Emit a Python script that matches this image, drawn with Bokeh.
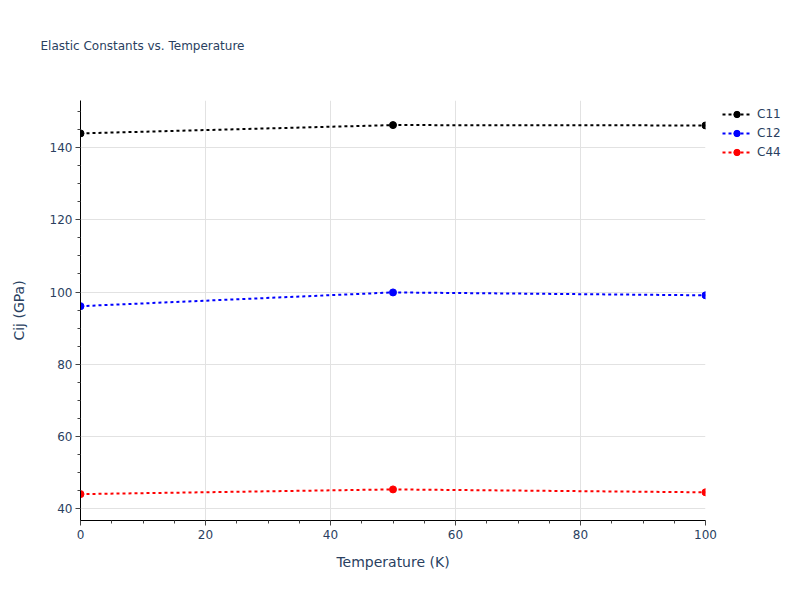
from bokeh.plotting import figure
from bokeh.models import (Range1d, SingleIntervalTicker, Legend, LegendItem, ColumnDataSource, Title)
from bokeh.embed import file_html
from bokeh.resources import INLINE

temperature = [0, 50, 100]
c11 = [143.9, 146.2, 146.1]
c12 = [96.1, 99.9, 99.1]
c44 = [44.1, 45.4, 44.6]
series_names = ["C11", "C12", "C44"]
series_colors = ["black", "blue", "red"]
title_text = "Elastic Constants vs. Temperature"

TEXT = "#2a3f5f"
FONT = "DejaVu Sans"

p = figure(frame_width=625, frame_height=420, output_backend="svg", toolbar_location=None,
           x_range=Range1d(0, 100), y_range=Range1d(36.8, 153.0),
           min_border_left=80, min_border_top=100, min_border_bottom=70, min_border_right=20,
           title=title_text)
p.outline_line_color = None
p.background_fill_color = "white"
p.border_fill_color = "white"

p.title.text_font = FONT
p.title.text_font_size = "12px"
p.title.text_font_style = "normal"
p.title.text_color = TEXT
p.title.align = "left"
p.title.offset = -40
p.title.standoff = 0

# inner spacer panel keeps the real title away from the frame
spacer = Title(text=" ", text_font=FONT, text_font_size="12px", standoff=32)
p.add_layout(spacer, "above")

p.xaxis.ticker = SingleIntervalTicker(interval=20, num_minor_ticks=4)
p.yaxis.ticker = SingleIntervalTicker(interval=20, num_minor_ticks=4)
p.xgrid.ticker = SingleIntervalTicker(interval=20)
p.ygrid.ticker = SingleIntervalTicker(interval=20)

for ax in (p.xaxis[0], p.yaxis[0]):
    ax.axis_line_color = "black"
    ax.axis_line_width = 1
    ax.major_tick_line_color = "#444444"
    ax.minor_tick_line_color = "#444444"
    ax.major_tick_out = 5
    ax.major_tick_in = 0
    ax.minor_tick_out = 3
    ax.minor_tick_in = 0
    ax.major_label_text_font = FONT
    ax.major_label_text_font_size = "12px"
    ax.major_label_text_color = TEXT
    ax.axis_label_text_font = FONT
    ax.axis_label_text_font_size = "14px"
    ax.axis_label_text_font_style = "normal"
    ax.axis_label_text_color = TEXT

p.xaxis.axis_label = "Temperature (K)"
p.yaxis.axis_label = "Cij (GPa)"
p.xaxis.major_label_standoff = 4
p.xaxis.axis_label_standoff = 12
p.yaxis.major_label_standoff = 3
p.yaxis.axis_label_standoff = 20

p.xgrid.grid_line_color = "#e2e2e2"
p.ygrid.grid_line_color = "#e2e2e2"
p.xgrid.grid_line_width = 1
p.ygrid.grid_line_width = 1

items = []
for name, vals, col in zip(series_names, [c11, c12, c44], series_colors):
    src = ColumnDataSource(dict(x=temperature, y=vals))
    ln = p.line("x", "y", source=src, line_color=col, line_width=2, line_dash="3 3")
    sc = p.scatter("x", "y", source=src, size=7, fill_color=col, line_color=col)
    items.append(LegendItem(label=name, renderers=[ln, sc]))

legend = Legend(items=items, location=(17, 360), orientation="vertical",
                glyph_width=29, glyph_height=16, spacing=3, label_standoff=6,
                padding=0, margin=0, border_line_color=None, background_fill_alpha=0,
                label_text_font=FONT, label_text_font_size="12px", label_text_color=TEXT)
p.add_layout(legend, "right")

open("out.html", "w").write(file_html(p, INLINE))
